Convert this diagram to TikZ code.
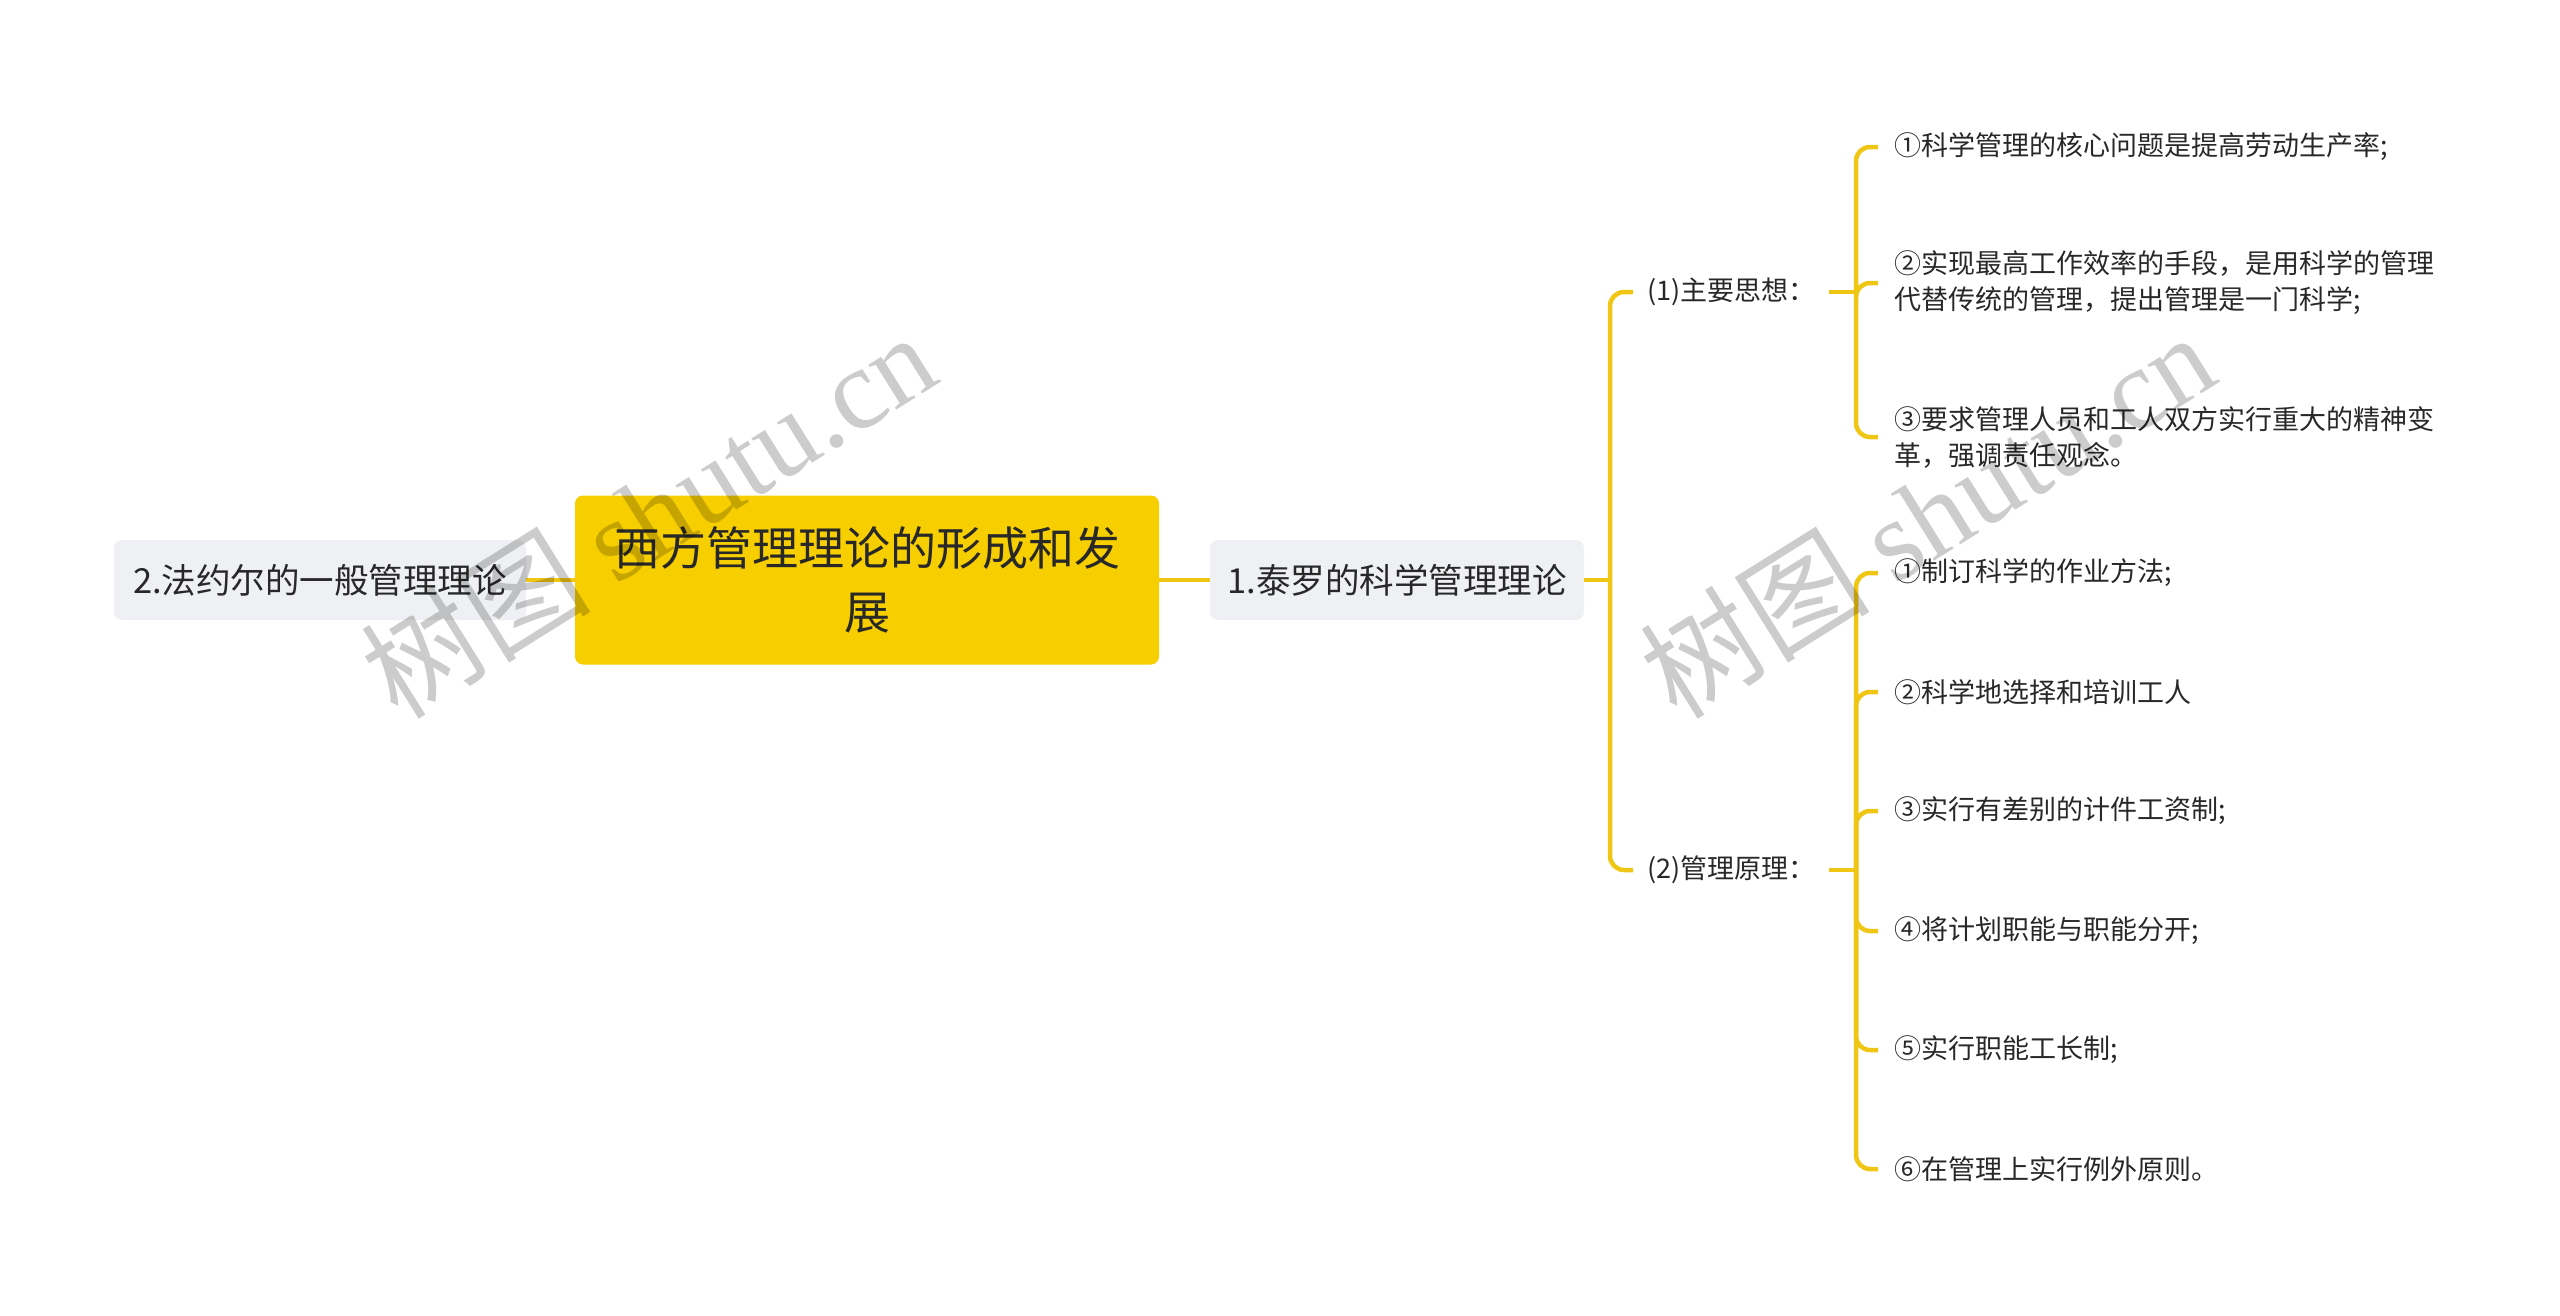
\documentclass[tikz,border=0pt]{standalone}
\usepackage{fontspec}
\setmainfont{Noto Sans CJK SC}
\newfontfamily\wmserif{Liberation Serif}
\definecolor{rootyellow}{RGB}{247,206,0}
\definecolor{lineyellow}{RGB}{240,198,20}
\definecolor{boxgray}{RGB}{238,240,243}
\definecolor{txt}{RGB}{40,40,40}
\tikzset{
  rootbox/.style={fill=rootyellow, rounded corners=8pt, minimum width=584pt, minimum height=169pt, align=center, text=txt, font=\fontsize{46}{64}\selectfont, inner sep=0pt},
  graybox/.style={fill=boxgray, rounded corners=8pt, minimum height=80pt, text=txt, font=\fontsize{34.5}{42}\selectfont, inner sep=0pt},
  midnode/.style={anchor=west, text width=168pt, inner xsep=14pt, inner ysep=4pt, align=left, text=txt, font=\fontsize{27}{36}\selectfont},
  leaf/.style={anchor=west, inner xsep=16pt, inner ysep=4pt, align=left, text=txt, font=\fontsize{27}{36}\selectfont},
  conn/.style={draw=lineyellow, line width=4.5pt, rounded corners=14pt},
  wm/.style={text=black, text opacity=0.2, font=\fontsize{115}{115}\selectfont, inner sep=0pt}
}
\begin{document}
\begin{tikzpicture}[x=1pt,y=-1pt]
\useasboundingbox (0,0) rectangle (2560,1315);

\node[rootbox] (root) at (867,580) {西方管理理论的形成和发\\展};
\node[graybox, minimum width=412pt] (left) at (320,580) {2.法约尔的一般管理理论};
\node[graybox, minimum width=374pt] (l1) at (1397,580) {1.泰罗的科学管理理论};

\node[midnode] (s1) at (1633,292) {(1)主要思想：};
\node[midnode] (s2) at (1633,870) {(2)管理原理：};

\node[leaf] (a1) at (1878,147) {①科学管理的核心问题是提高劳动生产率;};
\node[leaf] (a2) at (1878,283) {②实现最高工作效率的手段，是用科学的管理\\代替传统的管理，提出管理是一门科学;};
\node[leaf] (a3) at (1878,437) {③要求管理人员和工人双方实行重大的精神变\\革，强调责任观念。};

\node[leaf] (b1) at (1878,573) {①制订科学的作业方法;};
\node[leaf] (b2) at (1878,692) {②科学地选择和培训工人};
\node[leaf] (b3) at (1878,811) {③实行有差别的计件工资制;};
\node[leaf] (b4) at (1878,931) {④将计划职能与职能分开;};
\node[leaf] (b5) at (1878,1050) {⑤实行职能工长制;};
\node[leaf] (b6) at (1878,1169) {⑥在管理上实行例外原则。};

\coordinate (j0) at (1610,580);
\coordinate (j1) at (1856,292);
\coordinate (j2) at (1856,870);

\draw[conn] (left.east) -- (root.west);
\draw[conn] (root.east) -- (l1.west);
\draw[conn] (l1.east) -- (j0);
\draw[conn] (j0) |- (s1.west);
\draw[conn] (j0) |- (s2.west);
\draw[conn] (s1.east) -- (j1);
\draw[conn] (s2.east) -- (j2);
\foreach \n in {a1,a2,a3} \draw[conn] (j1) |- (\n.west);
\foreach \n in {b1,b2,b3,b4,b5,b6} \draw[conn] (j2) |- (\n.west);

\node[wm, rotate=32] (wm1) at (648,514) {树图 {\wmserif shutu.cn}};
\node[wm, rotate=32] (wm2) at (1927,514) {树图 {\wmserif shutu.cn}};
\end{tikzpicture}
\end{document}
